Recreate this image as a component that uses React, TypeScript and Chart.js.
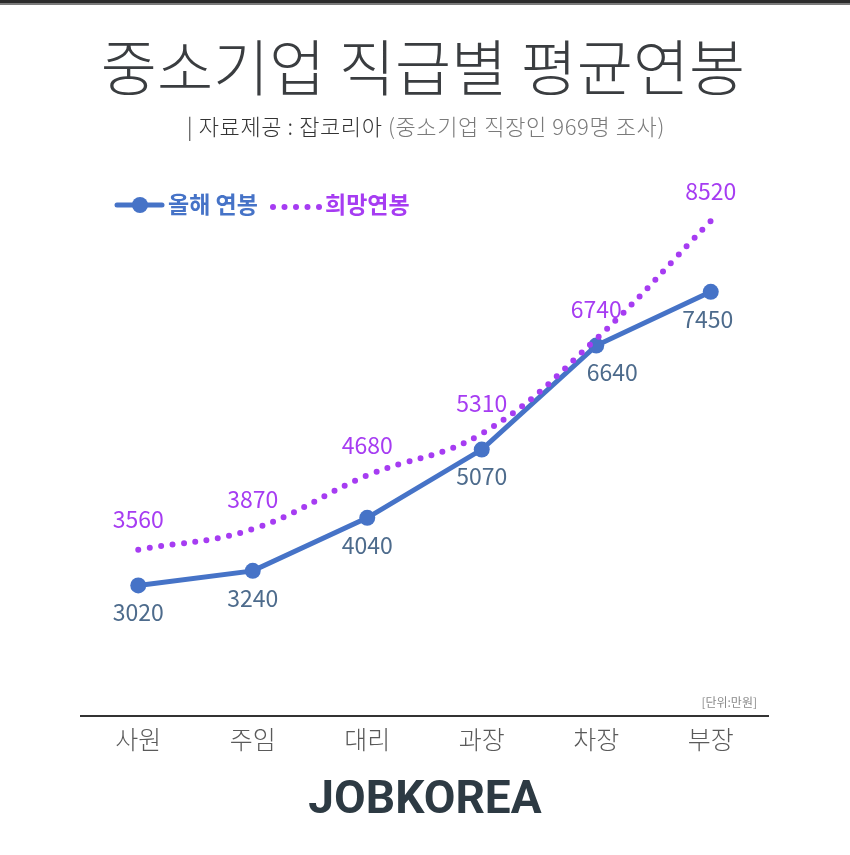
import React, { useEffect, useRef } from "react";
import { Chart, registerables } from "chart.js";

Chart.register(...registerables);

const categories = ["사원", "주임", "대리", "과장", "차장", "부장"];
const currentSalary = [3020, 3240, 4040, 5070, 6640, 7450];
const desiredSalary = [3560, 3870, 4680, 5310, 6740, 8520];
const seriesLabels = ["올해 연봉", "희망연봉"];
const titleText = "중소기업 직급별 평균연봉";
const sourceText = "| 자료제공 : 잡코리아";
const sourceNote = "(중소기업 직장인 969명 조사)";
const unitText = "[단위:만원]";
const brandText = "JOBKOREA";

const KR = "'Noto Sans CJK KR', 'Noto Sans', sans-serif";
const BLUE = "#4673c7";
const BLUE_LABEL = "#4d6b8c";
const PURPLE = "#a63cf2";

const decorPlugin = {
  id: "decor",
  afterDraw(chart: any) {
    const ctx = chart.ctx as CanvasRenderingContext2D;
    ctx.save();
    // top band
    ctx.fillStyle = "#2b2b2b";
    ctx.fillRect(0, 0, 850, 3);
    ctx.fillStyle = "#7a7a7a";
    ctx.fillRect(0, 3, 850, 2);

    // title
    ctx.textAlign = "center";
    ctx.textBaseline = "middle";
    ctx.fillStyle = "#3a3d40";
    ctx.font = `300 61px ${KR}`;
    ctx.fillText(titleText, 423, 68);

    // subtitle
    ctx.font = `300 22px ${KR}`;
    (ctx as any).letterSpacing = "0.6px";
    const w1 = ctx.measureText(sourceText + " ").width;
    const w2 = ctx.measureText(sourceNote).width;
    const start = 426 - (w1 + w2) / 2;
    ctx.textAlign = "left";
    ctx.fillStyle = "#333";
    ctx.fillText(sourceText + " ", start, 127);
    ctx.fillStyle = "#7a7a7a";
    ctx.fillText(sourceNote, start + w1, 127);
    (ctx as any).letterSpacing = "0px";

    // legend
    ctx.strokeStyle = BLUE;
    ctx.lineWidth = 5;
    ctx.lineCap = "round";
    ctx.beginPath();
    ctx.moveTo(117, 205);
    ctx.lineTo(162, 205);
    ctx.stroke();
    ctx.fillStyle = BLUE;
    ctx.beginPath();
    ctx.arc(140, 205, 8, 0, Math.PI * 2);
    ctx.fill();
    ctx.font = `700 23px ${KR}`;
    ctx.textBaseline = "middle";
    ctx.fillText(chart.data.datasets[0].label, 168, 204);
    ctx.fillStyle = PURPLE;
    for (let i = 0; i < 5; i++) {
      ctx.beginPath();
      ctx.arc(273 + i * 11.5, 207, 3, 0, Math.PI * 2);
      ctx.fill();
    }
    ctx.fillText(chart.data.datasets[1].label, 325, 204);

    // unit
    ctx.font = `400 12px ${KR}`;
    ctx.fillStyle = "#8a8a8a";
    ctx.textAlign = "right";
    ctx.fillText(unitText, 757, 702);

    // brand
    ctx.font = `700 46px Roboto, sans-serif`;
    ctx.fillStyle = "#2d3a43";
    ctx.textAlign = "center";
    ctx.fillText(brandText, 425, 801);
    ctx.restore();
  },
  afterDatasetsDraw(chart: any) {
    const ctx = chart.ctx as CanvasRenderingContext2D;
    ctx.save();
    ctx.textAlign = "center";
    ctx.textBaseline = "middle";
    ctx.font = `400 23px ${KR}`;
    const blueMeta = chart.getDatasetMeta(0);
    const purpleMeta = chart.getDatasetMeta(1);
    const blueShift = [0, 0, 0, 0, 16, -3];
    ctx.fillStyle = PURPLE;
    purpleMeta.data.forEach((pt: any, i: number) => {
      ctx.fillText(String(chart.data.datasets[1].data[i]), pt.x, pt.y - 30);
    });
    ctx.fillStyle = BLUE_LABEL;
    blueMeta.data.forEach((pt: any, i: number) => {
      ctx.fillText(String(chart.data.datasets[0].data[i]), pt.x + blueShift[i], pt.y + 27);
    });
    ctx.restore();
  },
};

export default function App() {
  const ref = useRef<HTMLCanvasElement>(null);
  useEffect(() => {
    const chart = new Chart(ref.current as HTMLCanvasElement, {
      type: "line",
      data: {
        labels: categories,
        datasets: [
          {
            label: seriesLabels[0],
            data: currentSalary,
            borderColor: BLUE,
            backgroundColor: BLUE,
            borderWidth: 5,
            pointRadius: 8,
            pointHoverRadius: 8,
            pointBackgroundColor: BLUE,
            pointBorderWidth: 0,
            tension: 0,
            order: 2,
          },
          {
            label: seriesLabels[1],
            data: desiredSalary,
            borderColor: PURPLE,
            borderWidth: 6,
            borderDash: [0, 11.5],
            borderCapStyle: "round",
            pointRadius: 0,
            tension: 0.4,
            order: 1,
          },
        ],
      },
      options: {
        responsive: false,
        animation: false,
        layout: { padding: { left: 81, right: 82, top: 156, bottom: 0 } },
        plugins: { legend: { display: false }, title: { display: false }, tooltip: { enabled: false } },
        scales: {
          y: { display: false, min: 1050, max: 9500 },
          x: {
            offset: true,
            afterFit: (scale: any) => {
              scale.height = 139;
            },
            grid: { display: false, drawTicks: false },
            border: { display: true, color: "#333", width: 2 },
            ticks: {
              padding: 8,
              color: "#5a5a5a",
              font: { family: KR, size: 25, weight: "300" as any },
            },
          },
        },
      },
      plugins: [decorPlugin],
    });
    return () => chart.destroy();
  }, []);
  return (
    <div style={{ position: "fixed", left: 0, top: 0, width: 850, height: 855, background: "#fff" }}>
      <canvas ref={ref} width={850} height={855} style={{ width: 850, height: 855, display: "block" }} />
    </div>
  );
}
